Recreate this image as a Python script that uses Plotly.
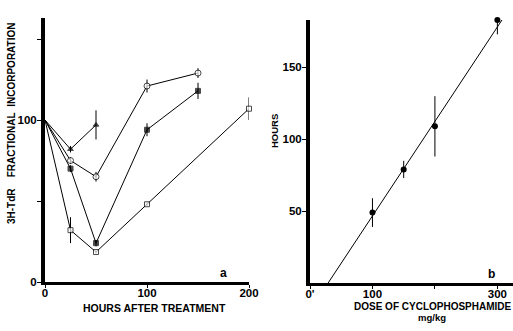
import plotly.graph_objects as go

# Panel a: fractional incorporation vs hours after treatment
hours_tri = [0, 25, 50]
incorp_tri = [100, 82, 97]
err_tri = [0, 2, 9]

hours_oc = [0, 25, 50, 100, 150]
incorp_oc = [100, 75, 65, 121, 129]
err_oc = [0, 2, 3, 4, 3]

hours_fs = [0, 25, 50, 100, 150]
incorp_fs = [100, 70, 24, 94, 118]
err_fs = [0, 2, 2, 4, 5]

hours_os = [0, 25, 50, 100, 200]
incorp_os = [100, 32, 18.5, 48, 107]
err_os = [0, 8, 1, 1, 7]

# Panel b: hours vs dose
dose = [100, 150, 200, 300]
hrs = [49, 79, 109, 183]
hrs_err = [10, 6, 21, 10]
fit_dose = [29, 318]
fit_hrs = [0, 190]

NARROW = "Liberation Sans Narrow, Arial Narrow, Liberation Sans, Arial"
WIDE = "Liberation Sans, Arial, Helvetica"

fig = go.Figure()

def series(x, y, e, symbol, fill, size):
    sizes = [0] + [size] * (len(x) - 1)
    fig.add_trace(go.Scatter(
        x=x, y=y, mode="lines+markers", xaxis="x", yaxis="y",
        line=dict(color="black", width=1),
        marker=dict(symbol=symbol, size=sizes, color=fill,
                    line=dict(color="black", width=1)),
        error_y=dict(type="data", array=e, visible=True, color="black",
                     thickness=1, width=0),
        cliponaxis=False, showlegend=False))

series(hours_tri, incorp_tri, err_tri, "triangle-up", "black", 5)
series(hours_oc, incorp_oc, err_oc, "circle", "white", 6)
series(hours_fs, incorp_fs, err_fs, "square", "black", 5)
series(hours_os, incorp_os, err_os, "square", "white", 5)

fig.add_trace(go.Scatter(
    x=fit_dose, y=fit_hrs, mode="lines", xaxis="x2", yaxis="y2",
    line=dict(color="black", width=1), cliponaxis=False, showlegend=False))
fig.add_trace(go.Scatter(
    x=dose, y=hrs, mode="markers", xaxis="x2", yaxis="y2",
    marker=dict(symbol="circle", size=6, color="black"),
    error_y=dict(type="data", array=hrs_err, visible=True, color="black",
                 thickness=1, width=0),
    cliponaxis=False, showlegend=False))

W, H = 513, 331
def px(v):
    return v / W
def py(v):
    return 1 - v / H

tickfont = dict(family=WIDE, size=11.5, color="black", weight="bold")

common = dict(showgrid=False, zeroline=False, showline=True,
              linecolor="black", tickwidth=1, tickcolor="black",
              tickfont=tickfont, ticks="outside", automargin=False)

fig.update_layout(
    width=W, height=H, margin=dict(l=0, r=0, t=0, b=0, pad=0),
    paper_bgcolor="white", plot_bgcolor="white",
    xaxis=dict(domain=[px(45), px(249)], range=[0, 200], anchor="y",
               linewidth=3, ticklen=3, tickvals=[0, 100, 200],
               ticktext=["0", "100", "200"], ticklabelstandoff=-5, **common),
    yaxis=dict(domain=[py(282), py(18)], range=[0, 163], anchor="x",
               linewidth=4, ticklen=4, tickvals=[0, 50, 100, 150],
               ticktext=["0", "", "100", ""], ticklabelstandoff=-2, **common),
    xaxis2=dict(domain=[px(310), px(513)], range=[0, 325], anchor="y2",
                linewidth=3, ticklen=3, tickvals=[0, 100, 200, 300],
                ticktext=["0'", "100", "", "300"], ticklabelstandoff=-5, **common),
    yaxis2=dict(domain=[py(283), py(20)], range=[0, 183], anchor="x2",
                linewidth=4, ticklen=4, tickvals=[50, 100, 150],
                ticktext=["50", "100", "150"], ticklabelstandoff=-2, **common),
)

def note(text, x, y, size, angle=0, family=NARROW):
    fig.add_annotation(text=text, x=px(x), y=py(y), xref="paper", yref="paper",
                       showarrow=False, textangle=angle,
                       font=dict(family=family, size=size, color="black", weight="bold"),
                       xanchor="center", yanchor="middle")

note("3H-TdR&nbsp;&nbsp;&nbsp;&nbsp;FRACTIONAL&nbsp;&nbsp;INCORPORATION", 11, 124, 10, -90)
note("HOURS AFTER TREATMENT", 154, 308, 10.5)
note("a", 223, 273, 12, family=WIDE)
note("b", 491, 274, 12, family=WIDE)
note("HOURS", 275, 131, 9.5, -90)
note("DOSE OF CYCLOPHOSPHAMIDE", 433, 306, 10)
note("mg/kg", 432, 317, 9.5)

fig.write_html("out.html")
